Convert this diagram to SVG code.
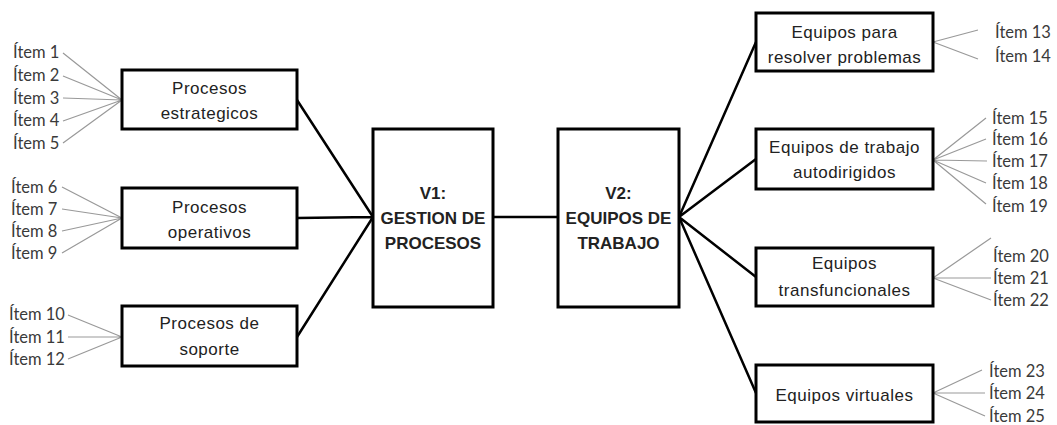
<svg xmlns="http://www.w3.org/2000/svg" width="1057" height="425" viewBox="0 0 1057 425">
<style>
.box{fill:#fff;stroke:#000;stroke-width:3}
.lbl{font-family:"Liberation Sans",Arial,sans-serif;font-size:17px;fill:#222;text-anchor:middle;letter-spacing:0.5px}
.big{font-family:"Liberation Sans",Arial,sans-serif;font-size:17px;font-weight:bold;fill:#222;text-anchor:middle}
.it{font-family:Lato,"Noto Sans",sans-serif;font-size:16.5px;fill:#3a3a3a}
.main{stroke:#000;stroke-width:2.5;fill:none}
.thin{stroke:#999;stroke-width:1.2;fill:none}
</style>
<rect width="1057" height="425" fill="#fff"/>
<g id="connectors">
<path class="main" d="M297,100 L373,217 M297,218 L373,217 M297,337 L373,217 M493,217 L558,217 M679,217 L756,42 M679,217 L756,159 M679,217 L756,277 M679,217 L756,393"/>
<path class="thin" d="M63,53 L122,100 M63,76 L122,100 M63,98 L122,100 M63,121 L122,100 M63,143 L122,100
M62,187 L122,218 M62,209 L122,218 M62,231 L122,218 M62,253 L122,218
M68,315 L122,337 M68,337 L122,337 M68,359 L122,337
M933,42 L978,30 M933,42 L978,59
M933,160 L986,118 M933,160 L986,139 M933,160 L987,161 M933,160 L986,183 M933,160 L986,204
M933,278 L991,238 M933,278 L991,278 M933,278 L991,300
M933,393 L982,370 M933,393 L985,393 M933,393 L985,416"/>
</g>
<g id="n-estrategicos"><rect class="box" x="122" y="70" width="175" height="59"/><text class="lbl" x="209.5" y="94">Procesos</text><text class="lbl" x="209.5" y="119">estrategicos</text></g>
<g id="n-operativos"><rect class="box" x="122" y="188" width="175" height="60"/><text class="lbl" x="209.5" y="213">Procesos</text><text class="lbl" x="209.5" y="238">operativos</text></g>
<g id="n-soporte"><rect class="box" x="122" y="306" width="175" height="60"/><text class="lbl" x="209.5" y="329">Procesos de</text><text class="lbl" x="209.5" y="355">soporte</text></g>
<g id="n-v1"><rect class="box" x="373" y="129" width="120" height="178"/><text class="big" x="433" y="199">V1:</text><text class="big" x="433" y="224">GESTION DE</text><text class="big" x="433" y="249">PROCESOS</text></g>
<g id="n-v2"><rect class="box" x="558" y="129" width="121" height="178"/><text class="big" x="618.5" y="199">V2:</text><text class="big" x="618.5" y="224">EQUIPOS DE</text><text class="big" x="618.5" y="249">TRABAJO</text></g>
<g id="n-resolver"><rect class="box" x="756" y="13" width="177" height="58"/><text class="lbl" x="844.5" y="38">Equipos para</text><text class="lbl" x="844.5" y="63">resolver problemas</text></g>
<g id="n-autodirigidos"><rect class="box" x="756" y="129" width="177" height="60"/><text class="lbl" x="844.5" y="153">Equipos de trabajo</text><text class="lbl" x="844.5" y="178">autodirigidos</text></g>
<g id="n-transfuncionales"><rect class="box" x="756" y="248" width="177" height="58"/><text class="lbl" x="844.5" y="269">Equipos</text><text class="lbl" x="844.5" y="296">transfuncionales</text></g>
<g id="n-virtuales"><rect class="box" x="756" y="365" width="177" height="57"/><text class="lbl" x="844.5" y="401">Equipos virtuales</text></g>
<g id="items">
<text class="it" x="13" y="58">Ítem 1</text>
<text class="it" x="13" y="81">Ítem 2</text>
<text class="it" x="13" y="104">Ítem 3</text>
<text class="it" x="13" y="126">Ítem 4</text>
<text class="it" x="13" y="149">Ítem 5</text>
<text class="it" x="11" y="193">Ítem 6</text>
<text class="it" x="11" y="215">Ítem 7</text>
<text class="it" x="11" y="237">Ítem 8</text>
<text class="it" x="11" y="259">Ítem 9</text>
<text class="it" x="9" y="320">Ítem 10</text>
<text class="it" x="9" y="343">Ítem 11</text>
<text class="it" x="9" y="365">Ítem 12</text>
<text class="it" x="995" y="38">Ítem 13</text>
<text class="it" x="995" y="62">Ítem 14</text>
<text class="it" x="992" y="124">Ítem 15</text>
<text class="it" x="992" y="145">Ítem 16</text>
<text class="it" x="992" y="167">Ítem 17</text>
<text class="it" x="992" y="189">Ítem 18</text>
<text class="it" x="992" y="212">Ítem 19</text>
<text class="it" x="993" y="262">Ítem 20</text>
<text class="it" x="993" y="284">Ítem 21</text>
<text class="it" x="993" y="306">Ítem 22</text>
<text class="it" x="989" y="377">Ítem 23</text>
<text class="it" x="989" y="399">Ítem 24</text>
<text class="it" x="989" y="422">Ítem 25</text>
</g>
</svg>
